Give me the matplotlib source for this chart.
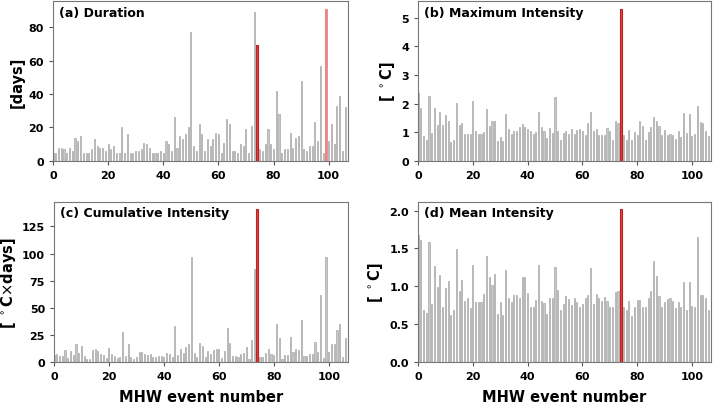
import numpy as np
import matplotlib
matplotlib.use("Agg")
import matplotlib.pyplot as plt

# MHW event metrics, events 0..106
duration = [5, 5, 8, 8, 7, 5, 8, 6, 14, 12, 15, 5, 5, 5, 7, 13, 9, 8, 8, 6,
            10, 7, 9, 5, 5, 20, 5, 16, 5, 5, 6, 6, 7, 11, 10, 8, 5, 5, 5, 6,
            5, 12, 10, 6, 26, 8, 15, 13, 16, 20, 77, 9, 6, 22, 16, 6, 13, 9, 13, 17,
            16, 5, 11, 25, 22, 6, 6, 5, 10, 9, 19, 5, 21, 89, 69, 7, 6, 10, 19, 10,
            7, 42, 28, 5, 7, 7, 17, 8, 14, 15, 48, 7, 6, 9, 9, 23, 12, 57, 5, 91,
            12, 22, 10, 33, 39, 6, 32]
max_int = [2.37, 1.84, 0.86, 0.74, 2.26, 0.96, 1.85, 1.26, 1.70, 1.26, 1.60, 1.40, 0.65, 0.73, 2.01, 1.25, 1.32, 0.95, 0.93, 0.93,
           2.09, 1.03, 0.94, 0.94, 1.01, 1.80, 1.23, 1.41, 1.40, 0.69, 0.83, 0.71, 1.63, 1.10, 0.94, 1.05, 1.05, 1.18, 1.28, 1.19,
           1.11, 1.03, 0.95, 1.02, 1.70, 1.18, 1.05, 0.80, 1.15, 0.97, 2.25, 1.06, 0.73, 0.96, 1.03, 0.95, 1.10, 0.94, 1.09, 1.12,
           1.05, 0.89, 1.31, 1.71, 1.04, 1.10, 0.91, 0.90, 0.90, 1.15, 1.03, 0.73, 1.40, 1.33, 5.32, 0.91, 0.73, 1.08, 0.72, 1.01,
           0.91, 1.38, 1.23, 0.72, 1.01, 1.19, 1.53, 1.39, 1.22, 0.91, 1.08, 0.90, 0.93, 0.89, 0.78, 1.04, 0.82, 1.67, 0.96, 1.63,
           0.88, 0.95, 1.91, 1.35, 1.33, 1.03, 0.86]
cum_int = [6, 7.6, 5.8, 5.5, 11, 3.7, 10.4, 6.1, 16.2, 8.5, 15, 5.8, 3, 3, 10.7, 11.9, 10, 7, 6.7, 4,
           12.8, 7.3, 5.8, 3.4, 4.6, 28, 5.8, 16.2, 4.3, 3, 4.3, 8.8, 9.5, 7.6, 6.7, 7.3, 4.6, 4.9, 5.5, 5.8,
           4.6, 8.2, 7.3, 4.9, 33.5, 6.7, 11.9, 8.2, 13.7, 16.8, 97, 8.5, 4.3, 17, 14.3, 4.3, 10, 7, 10.7, 11.9,
           11.9, 4, 10.4, 31, 17, 5.5, 5.5, 4.6, 7.6, 7.9, 14, 3, 19.8, 85.4, 141, 4.9, 4.3, 8.2, 11.6, 7,
           6.1, 34.8, 22.3, 2.7, 6.1, 6.4, 22.6, 9.1, 11.9, 11.3, 38.4, 5.8, 5.5, 7.3, 7, 18.3, 8.8, 61.3, 3.7, 97,
           9.1, 16.2, 16.5, 29.6, 34.8, 4.9, 22]
mean_int = [1.68, 1.61, 0.68, 0.64, 1.59, 0.76, 1.27, 0.99, 1.15, 0.72, 0.98, 1.07, 0.62, 0.68, 1.49, 0.94, 1.08, 0.81, 0.84, 0.71,
            1.28, 0.79, 0.79, 0.79, 0.90, 1.40, 1.12, 1.02, 1.16, 0.63, 0.79, 0.62, 1.21, 0.84, 0.79, 0.89, 0.89, 0.84, 1.12, 1.12,
            0.91, 0.72, 0.73, 0.82, 1.28, 0.80, 0.78, 0.63, 0.84, 0.84, 1.25, 0.95, 0.69, 0.77, 0.87, 0.83, 0.75, 0.84, 0.79, 0.72,
            0.76, 0.84, 0.89, 1.24, 0.76, 0.90, 0.84, 0.80, 0.86, 0.80, 0.72, 0.73, 0.93, 0.94, 2.02, 0.73, 0.69, 0.80, 0.61, 0.73,
            0.82, 0.82, 0.72, 0.72, 0.85, 0.94, 1.33, 1.13, 0.87, 0.72, 0.79, 0.83, 0.84, 0.81, 0.71, 0.79, 0.73, 1.05, 0.69, 1.06,
            0.74, 0.73, 1.65, 0.89, 0.88, 0.84, 0.68]

titles = ["(a) Duration", "(b) Maximum Intensity", "(c) Cumulative Intensity", "(d) Mean Intensity"]
ylabels = ["[days]", r"[ $^\circ$C]", r"[ $^\circ$C$\times$days]", r"[ $^\circ$C]"]
yticks = [[0, 20, 40, 60, 80], [0, 1, 2, 3, 4, 5], [0, 25, 50, 75, 100, 125],
          [0.0, 0.5, 1.0, 1.5, 2.0]]
highlight = 74      # event of interest (red)
second = 99         # second marked event in duration panel

events = np.arange(len(duration))
series = [duration, max_int, cum_int, mean_int]

fig = plt.figure(figsize=(7.13, 4.10), dpi=100)
boxes = [[0.0743, 0.605, 0.4137, 0.390], [0.5863, 0.605, 0.411, 0.390],
         [0.0757, 0.115, 0.4123, 0.391], [0.5863, 0.115, 0.411, 0.391]]

for k in range(4):
    ax = fig.add_axes(boxes[k])
    vals = np.array(series[k], dtype=float)
    ax.bar(events, vals, width=0.4, color='#c8c8c8', edgecolor='#a8a8a8', linewidth=0.5)
    if k == 0:
        ax.bar(second, vals[second], width=0.55, color='#f08a8a', edgecolor='#e87878', linewidth=0.5)
    ax.bar(highlight, vals[highlight], width=0.75, color='#dd4444', edgecolor='#c02020', linewidth=0.8)
    ax.set_xlim(0, len(events))
    ax.set_ylim(0, vals.max() * 1.05)
    ax.set_xticks([0, 20, 40, 60, 80, 100])
    ax.set_yticks(yticks[k])
    ax.tick_params(labelsize=8, length=3, width=0.8, color='#555555')
    for lab in ax.get_xticklabels() + ax.get_yticklabels():
        lab.set_fontweight('bold')
    for s in ax.spines.values():
        s.set_color('#777777')
    ax.text(0.02, 0.97, titles[k], transform=ax.transAxes, ha='left', va='top',
            fontsize=9, fontweight='bold')
    ax.set_ylabel(ylabels[k], fontsize=10.5, fontweight='bold', labelpad=3)
    if k >= 2:
        ax.set_xlabel("MHW event number", fontsize=10.5, fontweight='bold', labelpad=6)

fig.savefig("out.png", dpi=100)
